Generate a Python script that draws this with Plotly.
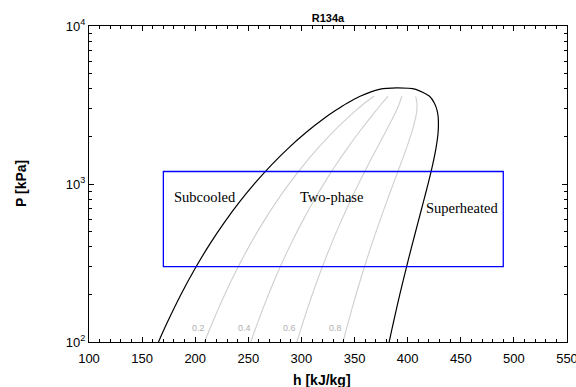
import numpy as np
import plotly.graph_objects as go

# R134a saturation data (IIR reference state: h = 200 kJ/kg for sat. liquid at 0 °C)
T_sat = [-30, -26.36, -20, -10, 0, 10, 20, 30, 40, 50, 60, 70, 80, 85, 90, 95, 100, 101.06]
P_sat = [84.38, 100.0, 132.73, 200.60, 292.80, 414.89, 571.71, 770.20, 1016.6, 1318.1,
         1681.8, 2116.8, 2633.2, 2925.8, 3244.2, 3591.2, 3972.4, 4059.3]
h_liq = [160.79, 165.42, 173.64, 186.70, 200.00, 213.58, 227.47, 241.72, 256.41, 271.62,
         287.50, 304.28, 322.42, 332.31, 342.93, 355.23, 373.30, 389.64]
h_vap = [380.32, 382.58, 386.55, 392.66, 398.60, 404.32, 409.75, 414.82, 419.43, 423.44,
         426.63, 428.65, 428.75, 427.67, 425.20, 420.60, 407.60, 389.64]

qualities = [0.2, 0.4, 0.6, 0.8]
quality_labels = ["0.2", "0.4", "0.6", "0.8"]
quality_top_T = 95  # quality lines run up to this saturation temperature
label_P = 123       # pressure at which quality labels sit

# Operating window drawn as a rectangle (h in kJ/kg, P in kPa)
box_h = [170, 490]
box_P = [300, 1200]

region_names = ["Subcooled", "Two-phase", "Superheated"]
region_h = [209, 328, 451]
region_P = [828, 828, 705]

P_sat = np.array(P_sat)
h_liq = np.array(h_liq)
h_vap = np.array(h_vap)
T_arr = np.array(T_sat)

fig = go.Figure()

# Quality lines inside the dome
mask = T_arr <= quality_top_T
annotations = []
for q, lab in zip(qualities, quality_labels):
    hq = h_liq[mask] + q * (h_vap[mask] - h_liq[mask])
    fig.add_trace(go.Scatter(x=hq, y=P_sat[mask], mode="lines",
                             line=dict(color="#cfcfcf", width=1.1, shape="spline", smoothing=0.8),
                             hoverinfo="skip", showlegend=False))
    h_at = np.interp(np.log10(label_P), np.log10(P_sat[mask]), hq)
    annotations.append(dict(x=h_at, y=np.log10(label_P), text=lab, showarrow=False,
                            xanchor="right", yanchor="middle", xshift=-3,
                            font=dict(family="Liberation Sans, Arial", size=9, color="#b0b0b0")))

# Saturation dome: liquid branch up to the critical point, then vapour branch back down
dome_h = np.concatenate([h_liq, h_vap[::-1][1:]])
dome_P = np.concatenate([P_sat, P_sat[::-1][1:]])
fig.add_trace(go.Scatter(x=dome_h, y=dome_P, mode="lines",
                         line=dict(color="black", width=1.2, shape="spline", smoothing=0.7),
                         hoverinfo="skip", showlegend=False))

# Operating window (shape coordinates on a log axis are given as data values)
fig.add_shape(type="rect", xref="x", yref="y",
              x0=box_h[0], x1=box_h[1], y0=box_P[0], y1=box_P[1],
              line=dict(color="#0000ff", width=1.3))

for name, hh, pp in zip(region_names, region_h, region_P):
    annotations.append(dict(x=hh, y=np.log10(pp), text=name, showarrow=False,
                            xanchor="center", yanchor="middle",
                            font=dict(family="Liberation Serif, Times New Roman", size=14.5,
                                      color="black")))

# Axis titles
title_font = dict(family="Liberation Sans, Arial", size=14, color="black")
annotations.append(dict(text="<b>h [kJ/kg]</b>", xref="paper", yref="paper", x=0.487, y=0,
                        xanchor="center", yanchor="middle", yshift=-38, showarrow=False,
                        font=title_font))
annotations.append(dict(text="<b>P [kPa]</b>", xref="paper", yref="paper", x=0, y=0.5,
                        xanchor="center", yanchor="middle", xshift=-68, textangle=-90,
                        showarrow=False, font=title_font))

axis_font = dict(family="Liberation Sans, Arial", size=13, color="black")

fig.update_layout(
    width=576, height=387,
    margin=dict(l=89, r=9, t=26, b=45),
    paper_bgcolor="white", plot_bgcolor="white",
    title=dict(text="<b>R134a</b>", x=0.5, xref="paper", y=1 - 18 / 387, yref="container",
               xanchor="center", yanchor="middle",
               font=dict(family="Liberation Sans, Arial", size=11, color="black")),
    annotations=annotations,
    showlegend=False,
)

fig.update_xaxes(
    range=[100, 550], tickmode="linear", tick0=100, dtick=50, automargin=False,
    ticks="inside", ticklen=5, tickwidth=1, tickcolor="black",
    showline=True, linecolor="black", linewidth=1, mirror="ticks",
    showgrid=False, zeroline=False, tickfont=axis_font, ticklabeloverflow="allow",
    ticklabelstandoff=4,
    minor=dict(ticks="inside", ticklen=3, tickwidth=1, tickcolor="black", dtick=10, showgrid=False),
)

fig.update_yaxes(
    type="log", range=[2, 4], automargin=False,
    tickmode="array", tickvals=[100, 1000, 10000],
    ticktext=["10<sup>2</sup>", "10<sup>3</sup>", "10<sup>4</sup>"],
    ticks="inside", ticklen=5, tickwidth=1, tickcolor="black",
    showline=True, linecolor="black", linewidth=1, mirror="ticks",
    showgrid=False, zeroline=False, tickfont=axis_font,
    minor=dict(ticks="inside", ticklen=3, tickwidth=1, tickcolor="black", tickmode="array",
               tickvals=[m * d for d in (100, 1000) for m in range(2, 10)], showgrid=False),
)

fig.write_html("out.html")
